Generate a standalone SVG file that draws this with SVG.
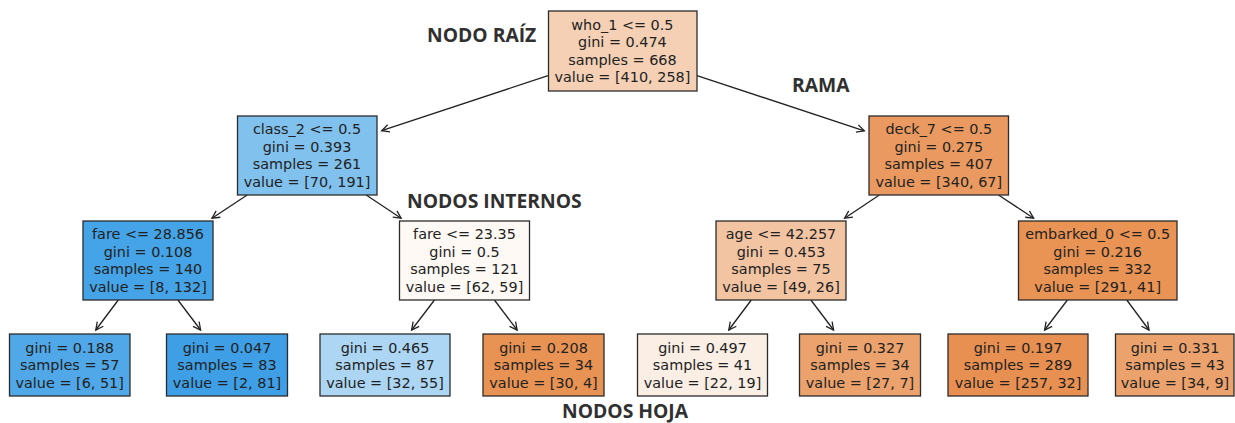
<svg xmlns="http://www.w3.org/2000/svg" width="1235" height="423" viewBox="0 0 1235 423">
  <style>
    .box { stroke: #2b2b2b; stroke-width: 1.3; }
    .t { font-family: "DejaVu Sans", "Liberation Sans", sans-serif; font-size: 14.4px; fill: #222; text-anchor: middle; }
    .lbl { font-family: "Open Sans", "Liberation Sans", sans-serif; font-weight: 700; font-size: 19.3px; fill: #303030; }
    .edge { stroke: #222; stroke-width: 1.3; fill: none; marker-end: url(#arr); }
  </style>
  <defs>
    <marker id="arr" markerWidth="12" markerHeight="12" refX="9" refY="5" orient="auto" markerUnits="userSpaceOnUse">
      <path d="M1.5,1.2 L9,5 L1.5,8.8" fill="none" stroke="#222" stroke-width="1.3" stroke-linejoin="miter"/>
    </marker>
  </defs>

  <rect width="1235" height="423" fill="#ffffff"/>

  <!-- connectors: parent edge to child, ending just short of the child box -->
  <g id="connectors">
    <line class="edge" x1="548" y1="75.7" x2="381.7" y2="130.7"/>
    <line class="edge" x1="697" y1="75.6" x2="864.3" y2="130.8"/>
    <line class="edge" x1="247.2" y1="195" x2="212" y2="218.2"/>
    <line class="edge" x1="366.2" y1="195" x2="401.1" y2="218.2"/>
    <line class="edge" x1="879.4" y1="195" x2="844.6" y2="218.2"/>
    <line class="edge" x1="998.5" y1="195" x2="1033.6" y2="218.2"/>
    <line class="edge" x1="118.3" y1="300" x2="95.8" y2="330"/>
    <line class="edge" x1="177.9" y1="300" x2="200.6" y2="330"/>
    <line class="edge" x1="434.5" y1="300" x2="411.6" y2="330"/>
    <line class="edge" x1="494.4" y1="300" x2="517.1" y2="330"/>
    <line class="edge" x1="751.3" y1="300" x2="728.8" y2="330"/>
    <line class="edge" x1="810.9" y1="300" x2="833.6" y2="330"/>
    <line class="edge" x1="1067.4" y1="300" x2="1044.6" y2="330"/>
    <line class="edge" x1="1126.8" y1="300" x2="1149" y2="330"/>
  </g>

  <!-- root -->
  <g id="node-root">
    <rect class="box" x="548.5" y="11" width="148.5" height="80" fill="#f5d0b5"/>
    <text class="t" x="622.4" y="29.6">who_1 &lt;= 0.5</text>
    <text class="t" x="622.4" y="47.2">gini = 0.474</text>
    <text class="t" x="622.4" y="64.8">samples = 668</text>
    <text class="t" x="622.4" y="82.4">value = [410, 258]</text>
  </g>

  <!-- level 1 -->
  <g id="node-class2">
    <rect class="box" x="237.5" y="116" width="139.5" height="79" fill="#81c1ee"/>
    <text class="t" x="307" y="134.1">class_2 &lt;= 0.5</text>
    <text class="t" x="307" y="151.7">gini = 0.393</text>
    <text class="t" x="307" y="169.3">samples = 261</text>
    <text class="t" x="307" y="186.9">value = [70, 191]</text>
  </g>
  <g id="node-deck7">
    <rect class="box" x="869" y="116" width="139.5" height="79" fill="#ea9a60"/>
    <text class="t" x="938.8" y="134.1">deck_7 &lt;= 0.5</text>
    <text class="t" x="938.8" y="151.7">gini = 0.275</text>
    <text class="t" x="938.8" y="169.3">samples = 407</text>
    <text class="t" x="938.8" y="186.9">value = [340, 67]</text>
  </g>

  <!-- level 2 -->
  <g id="node-fare28">
    <rect class="box" x="83" y="221" width="130" height="79" fill="#45a3e7"/>
    <text class="t" x="148" y="239.1">fare &lt;= 28.856</text>
    <text class="t" x="148" y="256.7">gini = 0.108</text>
    <text class="t" x="148" y="274.3">samples = 140</text>
    <text class="t" x="148" y="291.9">value = [8, 132]</text>
  </g>
  <g id="node-fare23">
    <rect class="box" x="399.5" y="221" width="130" height="79" fill="#fef9f5"/>
    <text class="t" x="464.5" y="239.1">fare &lt;= 23.35</text>
    <text class="t" x="464.5" y="256.7">gini = 0.5</text>
    <text class="t" x="464.5" y="274.3">samples = 121</text>
    <text class="t" x="464.5" y="291.9">value = [62, 59]</text>
  </g>
  <g id="node-age">
    <rect class="box" x="716" y="221" width="130" height="79" fill="#f3c4a2"/>
    <text class="t" x="781" y="239.1">age &lt;= 42.257</text>
    <text class="t" x="781" y="256.7">gini = 0.453</text>
    <text class="t" x="781" y="274.3">samples = 75</text>
    <text class="t" x="781" y="291.9">value = [49, 26]</text>
  </g>
  <g id="node-embarked0">
    <rect class="box" x="1018.5" y="221" width="158.5" height="79" fill="#e99355"/>
    <text class="t" x="1097.7" y="239.1">embarked_0 &lt;= 0.5</text>
    <text class="t" x="1097.7" y="256.7">gini = 0.216</text>
    <text class="t" x="1097.7" y="274.3">samples = 332</text>
    <text class="t" x="1097.7" y="291.9">value = [291, 41]</text>
  </g>

  <!-- leaves -->
  <g id="leaf-1">
    <rect class="box" x="9.5" y="334" width="120.5" height="62" fill="#50a8e8"/>
    <text class="t" x="69.7" y="352.6">gini = 0.188</text>
    <text class="t" x="69.7" y="370.2">samples = 57</text>
    <text class="t" x="69.7" y="387.8">value = [6, 51]</text>
  </g>
  <g id="leaf-2">
    <rect class="box" x="166.5" y="334" width="121" height="62" fill="#3e9fe6"/>
    <text class="t" x="227" y="352.6">gini = 0.047</text>
    <text class="t" x="227" y="370.2">samples = 83</text>
    <text class="t" x="227" y="387.8">value = [2, 81]</text>
  </g>
  <g id="leaf-3">
    <rect class="box" x="320" y="334" width="130" height="62" fill="#acd6f4"/>
    <text class="t" x="385" y="352.6">gini = 0.465</text>
    <text class="t" x="385" y="370.2">samples = 87</text>
    <text class="t" x="385" y="387.8">value = [32, 55]</text>
  </g>
  <g id="leaf-4">
    <rect class="box" x="483" y="334" width="121" height="62" fill="#e89253"/>
    <text class="t" x="543.5" y="352.6">gini = 0.208</text>
    <text class="t" x="543.5" y="370.2">samples = 34</text>
    <text class="t" x="543.5" y="387.8">value = [30, 4]</text>
  </g>
  <g id="leaf-5">
    <rect class="box" x="637.5" y="334" width="130" height="62" fill="#fbeee4"/>
    <text class="t" x="702.5" y="352.6">gini = 0.497</text>
    <text class="t" x="702.5" y="370.2">samples = 41</text>
    <text class="t" x="702.5" y="387.8">value = [22, 19]</text>
  </g>
  <g id="leaf-6">
    <rect class="box" x="799.5" y="334" width="121" height="62" fill="#eca26c"/>
    <text class="t" x="860" y="352.6">gini = 0.327</text>
    <text class="t" x="860" y="370.2">samples = 34</text>
    <text class="t" x="860" y="387.8">value = [27, 7]</text>
  </g>
  <g id="leaf-7">
    <rect class="box" x="948" y="334" width="140" height="62" fill="#e89052"/>
    <text class="t" x="1018" y="352.6">gini = 0.197</text>
    <text class="t" x="1018" y="370.2">samples = 289</text>
    <text class="t" x="1018" y="387.8">value = [257, 32]</text>
  </g>
  <g id="leaf-8">
    <rect class="box" x="1115.5" y="334" width="118.5" height="62" fill="#eca26d"/>
    <text class="t" x="1175" y="352.6">gini = 0.331</text>
    <text class="t" x="1175" y="370.2">samples = 43</text>
    <text class="t" x="1175" y="387.8">value = [34, 9]</text>
  </g>

  <!-- callout labels -->
  <g id="labels">
    <text class="lbl" x="427" y="42.3">NODO RAÍZ</text>
    <text class="lbl" x="792" y="92.3">RAMA</text>
    <text class="lbl" x="407" y="208">NODOS INTERNOS</text>
    <text class="lbl" x="562" y="418">NODOS HOJA</text>
  </g>
</svg>
